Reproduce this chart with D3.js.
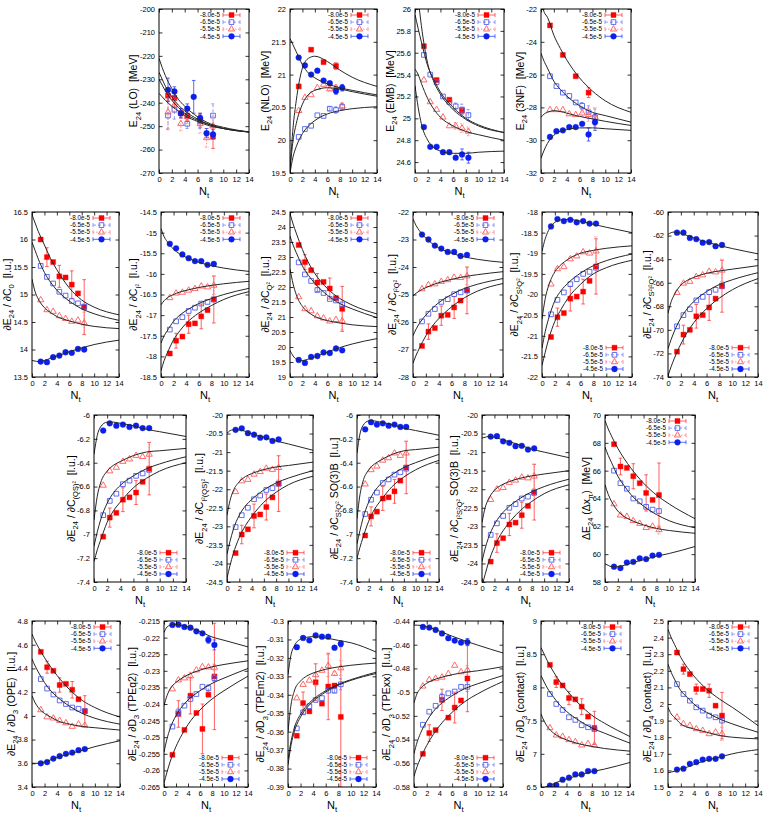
<!DOCTYPE html>
<html>
<head>
<meta charset="utf-8">
<script src="https://cdn.jsdelivr.net/npm/d3@7"></script>
<style>
  body { margin: 0; background: #fff; }
  svg text { font-family: "Liberation Sans", Arial, sans-serif; white-space: pre; }
</style>
</head>
<body>
<svg id="chart" width="764" height="816"></svg>
<script>
// N_t positions of the lattice points and of the sampled fit curves
const NT = [1.4, 2.4, 3.4, 4.4, 5.4, 6.4, 7.4, 8.4];
const NT_FIT = [0, 0.5, 1, 2, 3, 4, 6, 8, 10, 14];
const X_TICKS = [0, 2, 4, 6, 8, 10, 12, 14];
const SERIES = ['-8.0e-5', '-6.5e-5', '-5.5e-5', '-4.5e-5'];
const NO_ERR = [0, 0, 0, 0, 0, 0, 0, 0];

// ---- row 1 ----
const LO_Y = [
  [-237, -238, -244.5, -245.5, null, -247.5, null, -254.5],
  [-245.5, -243, null, -249, null, -248, null, -245.5],
  [-244, -241, -249, -246, null, -249, -255, -250],
  [-234.5, -235.2, -244.5, -242.5, -237.5, -246.5, -253, -253.5]
];
const LO_ERR = [
  [2, 3, 2, 2, 0, 3, 0, 5],
  [6, 4, 0, 2, 0, 3, 0, 5],
  [7, 3, 3, 3, 0, 4, 4, 4],
  [5, 2, 2, 2, 7, 2, 2, 2]
];
const LO_FIT = [
  [-227, -230, -233, -237.5, -241, -243.5, -247, -249.5, -251, -252.5],
  [-236, -237.5, -239, -241.5, -243.5, -245.5, -248, -250, -251, -252.5],
  [-230, -232.5, -235, -239, -242, -244.5, -247.5, -249.5, -251, -252.5],
  [-221, -225, -228.5, -234, -238.5, -241.5, -246, -249, -250.5, -252.5]
];

const NLO_Y = [
  [20.82, null, 21.38, null, 21.19, null, 21.13, null],
  [20.05, 20.17, 20.22, 20.38, 20.37, 20.48, 20.46, 20.51],
  [20.45, 20.65, 20.69, 20.8, 20.85, 20.78, 20.8, 20.52],
  [21.26, 21.14, 21.0, 21.06, 20.91, 20.87, 20.75, 20.8]
];
const NLO_ERR = [
  [0, 0, 0, 0, 0, 0, 0.05, 0],
  [0, 0, 0, 0, 0, 0.03, 0.05, 0.05],
  [0, 0, 0, 0, 0, 0.03, 0.04, 0.05],
  [0, 0, 0, 0, 0, 0, 0.05, 0.05]
];
const NLO_FIT = [
  [19.55, 20.2, 20.6, 21.1, 21.25, 21.28, 21.2, 21.07, 20.96, 20.82],
  [19.5, 19.75, 19.9, 20.1, 20.22, 20.3, 20.4, 20.45, 20.48, 20.51],
  [19.55, 20.0, 20.25, 20.55, 20.7, 20.76, 20.8, 20.78, 20.74, 20.67],
  [21.55, 21.45, 21.35, 21.15, 21.02, 20.95, 20.86, 20.8, 20.76, 20.69]
];

const EMB_Y = [
  [25.66, null, 25.35, null, 25.17, null, 25.07, null],
  [25.58, 25.4, 25.33, 25.2, 25.15, 25.11, 25.08, 25.03],
  [25.35, 25.15, 25.08, 25.01, 24.93, 24.93, 24.91, 24.88],
  [24.92, 24.74, 24.74, 24.69, 24.69, 24.64, 24.67, 24.64]
];
const EMB_ERR = [
  [0, 0, 0, 0, 0, 0, 0.03, 0],
  [0, 0, 0, 0, 0, 0.03, 0.05, 0.05],
  [0, 0, 0, 0, 0, 0.03, 0.04, 0.04],
  [0, 0, 0, 0, 0, 0, 0.05, 0.05]
];
const EMB_FIT = [
  [26.4, 26.1, 25.85, 25.5, 25.33, 25.22, 25.08, 24.99, 24.93, 24.87],
  [25.95, 25.82, 25.7, 25.48, 25.35, 25.24, 25.1, 25.0, 24.94, 24.87],
  [25.45, 25.4, 25.32, 25.18, 25.08, 25.01, 24.93, 24.88, 24.85, 24.8],
  [25.3, 25.1, 24.95, 24.8, 24.73, 24.7, 24.68, 24.68, 24.69, 24.7]
];

const TNF_Y = [
  [-23.0, null, -24.8, null, -26.1, null, -27.1, null],
  [-26.1, -26.7, -27.1, -27.3, -27.7, -27.9, -28.3, -28.6],
  [-28.15, -28.15, -28.15, -28.4, -28.45, -28.35, -28.45, -28.6],
  [-29.8, -29.45, -29.4, -29.2, -29.2, -29.0, -29.65, -28.9]
];
const TNF_ERR = [
  [0, 0, 0, 0, 0, 0, 0.3, 0],
  [0, 0, 0, 0, 0, 0.2, 0.4, 0.5],
  [0, 0, 0, 0, 0, 0.2, 0.4, 0.6],
  [0, 0, 0, 0, 0, 0, 0.4, 0.5]
];
const TNF_FIT = [
  [-21.5, -22.2, -22.5, -23.6, -24.4, -25.1, -26.2, -27.0, -27.6, -28.3],
  [-24.7, -25.2, -25.6, -26.4, -26.9, -27.3, -27.9, -28.3, -28.5, -28.9],
  [-28.6, -28.4, -28.3, -28.2, -28.25, -28.35, -28.55, -28.7, -28.85, -29.1],
  [-31.1, -30.6, -30.2, -29.7, -29.45, -29.35, -29.25, -29.25, -29.3, -29.4]
];

// ---- row 2 ----
const C0_Y = [
  [16.0, 15.68, 15.59, 15.33, 15.31, 15.18, 15.02, 14.77],
  [15.52, 15.32, 15.2, 15.05, 14.98, 14.88, 14.84, 14.78],
  [14.9, 14.72, 14.69, 14.61, 14.56, 14.51, 14.53, 14.48],
  [13.78, 13.77, 13.86, 13.89, 13.95, 13.94, 14.01, 14.0]
];
const C0_ERR = [[0, 0.17, 0, 0.2, 0, 0.25, 0, 0.5], NO_ERR, [0, 0, 0, 0, 0, 0, 0, 0.2], NO_ERR];
const C0_FIT = [
  [16.45, 16.3, 16.15, 15.9, 15.65, 15.45, 15.12, 14.9, 14.77, 14.63],
  [15.95, 15.8, 15.65, 15.4, 15.22, 15.08, 14.88, 14.74, 14.65, 14.53],
  [15.28, 15.05, 14.92, 14.76, 14.67, 14.6, 14.52, 14.46, 14.42, 14.38],
  [13.8, 13.79, 13.78, 13.8, 13.84, 13.88, 13.96, 14.03, 14.09, 14.17]
];

const CI2_Y = [
  [-17.93, -17.62, -17.52, -17.22, -17.2, -17.03, -16.88, -16.62],
  [-17.35, -17.15, -17.05, -16.9, -16.82, -16.72, -16.68, -16.62],
  [-16.58, -16.47, -16.45, -16.4, -16.36, -16.3, -16.32, -16.28],
  [-15.27, -15.38, -15.53, -15.62, -15.69, -15.69, -15.78, -15.76]
];
const CI2_ERR = [[0, 0.18, 0, 0.22, 0, 0.3, 0, 0.57], NO_ERR, [0, 0, 0, 0, 0, 0, 0, 0.22], NO_ERR];
const CI2_FIT = [
  [-18.35, -18.1, -17.92, -17.6, -17.38, -17.2, -16.95, -16.77, -16.62, -16.43],
  [-17.68, -17.5, -17.38, -17.15, -17.0, -16.89, -16.72, -16.6, -16.5, -16.35],
  [-16.75, -16.65, -16.58, -16.5, -16.44, -16.4, -16.33, -16.28, -16.24, -16.18],
  [-14.9, -15.1, -15.22, -15.4, -15.52, -15.6, -15.72, -15.8, -15.86, -15.94]
];

const CQ2_Y = [
  [23.4, 22.83, 22.56, 22.15, 22.17, 21.95, 21.63, 21.27],
  [22.82, 22.42, 22.2, 21.9, 21.8, 21.6, 21.55, 21.42],
  [21.67, 21.27, 21.2, 21.03, 20.96, 20.86, 20.91, 20.87],
  [19.57, 19.47, 19.67, 19.7, 19.82, 19.8, 19.95, 19.89]
];
const CQ2_ERR = [[0, 0.25, 0, 0.3, 0, 0.35, 0, 0.75], NO_ERR, [0, 0, 0, 0, 0, 0, 0, 0.3], NO_ERR];
const CQ2_FIT = [
  [24.45, 24.1, 23.8, 23.25, 22.8, 22.45, 21.95, 21.62, 21.4, 21.1],
  [23.7, 23.4, 23.15, 22.7, 22.38, 22.12, 21.73, 21.45, 21.27, 20.98],
  [22.6, 22.1, 21.75, 21.35, 21.15, 21.02, 20.88, 20.8, 20.74, 20.68],
  [19.88, 19.7, 19.6, 19.55, 19.6, 19.67, 19.83, 19.98, 20.1, 20.28]
];

const CI2Q2_Y = [
  [-26.87, -26.35, -26.22, -25.77, -25.74, -25.47, -25.22, -24.85],
  [-25.98, -25.7, -25.53, -25.27, -25.17, -24.99, -24.92, -24.85],
  [-24.8, -24.65, -24.62, -24.53, -24.47, -24.38, -24.39, -24.33],
  [-22.82, -23.0, -23.22, -23.33, -23.45, -23.45, -23.6, -23.56]
];
const CI2Q2_ERR = [[0, 0.28, 0, 0.35, 0, 0.4, 0, 0.85], NO_ERR, [0, 0, 0, 0, 0, 0, 0, 0.32], NO_ERR];
const CI2Q2_FIT = [
  [-27.5, -27.2, -26.95, -26.5, -26.15, -25.88, -25.45, -25.12, -24.88, -24.6],
  [-26.5, -26.25, -26.05, -25.75, -25.5, -25.3, -25.0, -24.78, -24.63, -24.42],
  [-25.05, -24.95, -24.87, -24.75, -24.65, -24.57, -24.45, -24.35, -24.28, -24.17],
  [-22.25, -22.5, -22.68, -22.95, -23.15, -23.3, -23.5, -23.63, -23.72, -23.83]
];

const CS2Q2_Y = [
  [-21.03, -20.55, -20.45, -20.1, -20.05, -19.93, -19.67, -19.32],
  [-20.48, -20.13, -19.95, -19.75, -19.63, -19.5, -19.45, -19.35],
  [-19.75, -19.38, -19.33, -19.14, -19.07, -18.97, -19.0, -18.95],
  [-18.35, -18.17, -18.22, -18.19, -18.25, -18.22, -18.28, -18.28]
];
const CS2Q2_ERR = [[0, 0.22, 0, 0.3, 0, 0.3, 0, 0.67], NO_ERR, [0, 0, 0, 0, 0, 0, 0, 0.35], NO_ERR];
const CS2Q2_FIT = [
  [-21.72, -21.4, -21.1, -20.65, -20.35, -20.1, -19.75, -19.5, -19.35, -19.17],
  [-21.3, -20.9, -20.6, -20.15, -19.9, -19.73, -19.48, -19.3, -19.18, -19.02],
  [-20.6, -20.1, -19.8, -19.45, -19.27, -19.15, -19.0, -18.93, -18.88, -18.82],
  [-18.95, -18.65, -18.45, -18.25, -18.19, -18.18, -18.22, -18.3, -18.37, -18.5]
];

const CS2I2Q2_Y = [
  [-71.85, -70.4, -70.0, -68.85, -68.75, -68.1, -67.35, -66.3],
  [-69.7, -68.75, -68.25, -67.5, -67.2, -66.8, -66.6, -66.25],
  [-66.85, -66.05, -65.9, -65.5, -65.35, -65.05, -65.1, -64.95],
  [-61.75, -61.75, -62.2, -62.3, -62.6, -62.55, -62.9, -62.8]
];
const CS2I2Q2_ERR = [[0, 0.8, 0, 1.0, 0, 1.1, 0, 2.2], NO_ERR, [0, 0, 0, 0, 0, 0, 0, 0.95], NO_ERR];
const CS2I2Q2_FIT = [
  [-73.9, -73.1, -72.4, -71.2, -70.2, -69.4, -68.2, -67.3, -66.6, -65.65],
  [-71.6, -70.8, -70.1, -69.0, -68.2, -67.6, -66.75, -66.15, -65.75, -65.15],
  [-68.6, -67.6, -67.0, -66.2, -65.8, -65.55, -65.2, -65.0, -64.85, -64.55],
  [-61.9, -61.75, -61.7, -61.8, -62.0, -62.2, -62.55, -62.85, -63.1, -63.55]
];

// ---- row 3 ----
const CQS2_Y = [
  [-7.02, -6.86, -6.82, -6.71, -6.69, -6.65, -6.56, -6.45],
  [-6.84, -6.72, -6.66, -6.58, -6.55, -6.51, -6.49, -6.46],
  [-6.59, -6.47, -6.44, -6.39, -6.37, -6.34, -6.35, -6.33],
  [-6.13, -6.07, -6.09, -6.08, -6.1, -6.09, -6.11, -6.11]
];
const CQS2_ERR = [[0, 0.08, 0, 0.1, 0, 0.1, 0, 0.22], NO_ERR, [0, 0, 0, 0, 0, 0, 0, 0.1], NO_ERR];
const CQS2_FIT = [
  [-7.23, -7.13, -7.05, -6.9, -6.8, -6.73, -6.61, -6.53, -6.47, -6.4],
  [-7.1, -6.98, -6.88, -6.74, -6.65, -6.59, -6.51, -6.45, -6.41, -6.35],
  [-6.88, -6.68, -6.57, -6.47, -6.42, -6.39, -6.34, -6.31, -6.3, -6.28],
  [-6.33, -6.17, -6.1, -6.06, -6.06, -6.07, -6.09, -6.12, -6.14, -6.18]
];

const CI2QS2_Y = [
  [-23.72, -23.22, -23.08, -22.72, -22.68, -22.48, -22.22, -21.85],
  [-23.02, -22.7, -22.5, -22.27, -22.17, -22.02, -21.97, -21.85],
  [-22.07, -21.78, -21.74, -21.6, -21.53, -21.44, -21.47, -21.42],
  [-20.4, -20.36, -20.49, -20.53, -20.61, -20.6, -20.7, -20.66]
];
const CI2QS2_ERR = [[0, 0.25, 0, 0.32, 0, 0.35, 0, 0.75], NO_ERR, [0, 0, 0, 0, 0, 0, 0, 0.33], NO_ERR];
const CI2QS2_FIT = [
  [-24.4, -24.05, -23.75, -23.3, -22.98, -22.74, -22.35, -22.08, -21.88, -21.65],
  [-23.75, -23.4, -23.1, -22.7, -22.45, -22.28, -22.02, -21.83, -21.7, -21.5],
  [-22.7, -22.3, -22.05, -21.8, -21.66, -21.58, -21.47, -21.4, -21.36, -21.27],
  [-20.5, -20.42, -20.4, -20.4, -20.44, -20.5, -20.6, -20.7, -20.78, -20.95]
];

const CS2Q2B_Y = [
  [-7.01, -6.85, -6.81, -6.7, -6.69, -6.64, -6.55, -6.44],
  [-6.83, -6.71, -6.65, -6.57, -6.54, -6.5, -6.48, -6.45],
  [-6.58, -6.46, -6.43, -6.38, -6.36, -6.32, -6.34, -6.32],
  [-6.12, -6.06, -6.08, -6.07, -6.09, -6.08, -6.1, -6.1]
];
const CS2Q2B_ERR = [[0, 0.08, 0, 0.1, 0, 0.1, 0, 0.22], NO_ERR, [0, 0, 0, 0, 0, 0, 0, 0.1], NO_ERR];
const CS2Q2B_FIT = [
  [-7.2, -7.11, -7.03, -6.89, -6.79, -6.72, -6.6, -6.52, -6.46, -6.38],
  [-7.08, -6.97, -6.87, -6.73, -6.64, -6.58, -6.5, -6.44, -6.4, -6.33],
  [-6.87, -6.67, -6.56, -6.46, -6.41, -6.38, -6.33, -6.3, -6.29, -6.27],
  [-6.32, -6.16, -6.09, -6.05, -6.05, -6.06, -6.08, -6.11, -6.13, -6.17]
];

const CI2S2Q2B_Y = [
  [-23.95, -23.45, -23.32, -22.95, -22.9, -22.7, -22.45, -22.08],
  [-23.23, -22.92, -22.72, -22.5, -22.4, -22.25, -22.2, -22.1],
  [-22.28, -22.0, -21.96, -21.82, -21.76, -21.68, -21.7, -21.65],
  [-20.58, -20.57, -20.71, -20.75, -20.84, -20.83, -20.93, -20.9]
];
const CI2S2Q2B_ERR = [[0, 0.25, 0, 0.3, 0, 0.35, 0, 0.75], NO_ERR, [0, 0, 0, 0, 0, 0, 0, 0.33], NO_ERR];
const CI2S2Q2B_FIT = [
  [-24.6, -24.3, -24.0, -23.55, -23.22, -22.98, -22.6, -22.33, -22.12, -21.88],
  [-23.95, -23.6, -23.33, -22.95, -22.7, -22.52, -22.26, -22.07, -21.93, -21.73],
  [-22.9, -22.5, -22.28, -22.03, -21.9, -21.82, -21.71, -21.64, -21.59, -21.5],
  [-20.62, -20.6, -20.58, -20.6, -20.65, -20.7, -20.8, -20.92, -21.0, -21.15]
];

const XPI_Y = [
  [67.9, 66.3, 66.2, 65.6, 65.1, 64.4, 63.9, 64.25],
  [66.0, 65.1, 64.7, 64.0, 63.8, 63.4, 63.2, 63.1],
  [63.6, 62.8, 62.7, 62.4, 62.2, 61.9, 62.0, 61.75],
  [59.1, 59.0, 59.4, 59.45, 59.7, 59.65, 59.9, 59.95]
];
const XPI_ERR = [[0, 0.6, 0, 0.9, 0, 1.3, 0, 2.3], NO_ERR, [0, 0, 0, 0, 0, 0, 0, 0.3], NO_ERR];
const XPI_FIT = [
  [69.6, 69.0, 68.5, 67.6, 66.85, 66.2, 65.1, 64.25, 63.6, 62.55],
  [67.7, 67.1, 66.6, 65.6, 64.9, 64.3, 63.45, 62.85, 62.4, 61.9],
  [65.0, 64.3, 63.8, 63.1, 62.7, 62.45, 62.1, 61.85, 61.7, 61.5],
  [59.3, 59.2, 59.1, 59.1, 59.2, 59.35, 59.6, 59.85, 60.05, 60.55]
];

// ---- row 4 ----
const OPE_Y = [
  [4.54, 4.41, 4.38, 4.26, 4.27, 4.22, 4.14, 4.04],
  [4.31, 4.23, 4.18, 4.13, 4.1, 4.07, 4.06, 4.04],
  [4.05, 3.99, 3.98, 3.96, 3.94, 3.91, 3.93, 3.92],
  [3.6, 3.61, 3.64, 3.66, 3.68, 3.69, 3.71, 3.72]
];
const OPE_ERR = [[0, 0.05, 0, 0.06, 0, 0.07, 0, 0.13], NO_ERR, NO_ERR, NO_ERR];
const OPE_FIT = [
  [4.69, 4.63, 4.58, 4.49, 4.41, 4.34, 4.22, 4.13, 4.07, 3.99],
  [4.48, 4.42, 4.37, 4.28, 4.21, 4.16, 4.08, 4.02, 3.98, 3.93],
  [4.17, 4.11, 4.07, 4.02, 3.99, 3.96, 3.93, 3.91, 3.9, 3.88],
  [3.6, 3.6, 3.6, 3.61, 3.63, 3.65, 3.68, 3.71, 3.74, 3.79]
];

const TPEQ2_Y = [
  [-0.2553, -0.243, -0.2478, -0.2375, -0.2427, -0.2475, -0.2372, -0.2317],
  [-0.2468, -0.2425, -0.2405, -0.2385, -0.237, -0.2348, -0.2352, -0.2322],
  [-0.2355, -0.2328, -0.2322, -0.2316, -0.2298, -0.2288, -0.2289, -0.229],
  [-0.2162, -0.2161, -0.2168, -0.217, -0.2181, -0.2187, -0.2207, -0.2222]
];
const TPEQ2_ERR = [
  [0, 0.004, 0, 0.0055, 0, 0.0075, 0, 0.016],
  [0, 0.0012, 0, 0, 0, 0, 0.001, 0.001],
  [0, 0, 0, 0.0012, 0, 0, 0, 0.001],
  [0, 0, 0, 0, 0, 0, 0.001, 0.0015]
];
const TPEQ2_FIT = [
  [-0.2638, -0.2605, -0.2575, -0.2528, -0.2492, -0.2462, -0.2418, -0.2385, -0.236, -0.2316],
  [-0.2545, -0.2505, -0.2475, -0.2435, -0.2408, -0.2388, -0.236, -0.2338, -0.2322, -0.2293],
  [-0.2405, -0.2375, -0.2355, -0.2335, -0.2322, -0.2312, -0.2298, -0.2288, -0.2281, -0.227],
  [-0.2185, -0.2168, -0.2163, -0.216, -0.2163, -0.2168, -0.2182, -0.2198, -0.2208, -0.2228]
];

const TPEM2_Y = [
  [-0.3622, -0.3445, -0.349, -0.3332, -0.3448, -0.3355, -0.335, -0.352],
  [-0.3582, -0.3495, -0.3462, -0.3428, -0.3418, -0.3378, -0.3378, -0.3343],
  [-0.3418, -0.3345, -0.3322, -0.3292, -0.3268, -0.3242, -0.3285, -0.3255],
  [-0.3142, -0.3092, -0.3105, -0.3078, -0.3085, -0.3085, -0.3145, -0.3123]
];
const TPEM2_ERR = [
  [0, 0.006, 0, 0.01, 0, 0.018, 0, 0.038],
  [0, 0, 0, 0, 0, 0, 0.001, 0.003],
  [0, 0, 0, 0.006, 0, 0.006, 0.001, 0.004],
  [0, 0, 0, 0, 0, 0, 0.001, 0.0015]
];
const TPEM2_FIT = [
  [-0.378, -0.367, -0.36, -0.352, -0.347, -0.3435, -0.3385, -0.3348, -0.3322, -0.3285],
  [-0.375, -0.365, -0.358, -0.3505, -0.3458, -0.3425, -0.3378, -0.3343, -0.3318, -0.3278],
  [-0.36, -0.345, -0.338, -0.3325, -0.3298, -0.3282, -0.3262, -0.3249, -0.324, -0.3228],
  [-0.329, -0.318, -0.3135, -0.3098, -0.3088, -0.3085, -0.3092, -0.3105, -0.3118, -0.3168]
];

const TPEXX_Y = [
  [-0.552, -0.5345, -0.532, -0.5065, -0.5215, -0.513, -0.507, -0.4885],
  [-0.5275, -0.5165, -0.5115, -0.504, -0.501, -0.4995, -0.4955, -0.4955],
  [-0.495, -0.4895, -0.4885, -0.4875, -0.4845, -0.4775, -0.483, -0.4815],
  [-0.445, -0.4455, -0.4475, -0.4505, -0.4545, -0.4565, -0.4582, -0.4578]
];
const TPEXX_ERR = [
  [0, 0.007, 0, 0.009, 0, 0.013, 0, 0.028],
  [0, 0, 0, 0.003, 0, 0, 0, 0.004],
  [0, 0, 0, 0, 0, 0, 0, 0.004],
  [0, 0, 0, 0, 0, 0, 0, 0.003]
];
const TPEXX_FIT = [
  [-0.571, -0.5625, -0.556, -0.545, -0.536, -0.5285, -0.517, -0.508, -0.5015, -0.491],
  [-0.552, -0.542, -0.535, -0.5245, -0.5165, -0.511, -0.503, -0.497, -0.493, -0.486],
  [-0.509, -0.501, -0.497, -0.4925, -0.4898, -0.488, -0.4853, -0.4833, -0.482, -0.4785],
  [-0.4435, -0.4435, -0.4437, -0.4448, -0.4465, -0.4485, -0.4528, -0.4567, -0.4603, -0.467]
];

const D3C_Y = [
  [8.34, 8.08, 8.03, 7.84, 7.82, 7.71, 7.56, 7.39],
  [7.9, 7.75, 7.66, 7.55, 7.51, 7.43, 7.4, 7.37],
  [7.39, 7.28, 7.26, 7.21, 7.18, 7.13, 7.15, 7.13],
  [6.52, 6.53, 6.61, 6.64, 6.69, 6.69, 6.74, 6.74]
];
const D3C_ERR = [[0, 0.08, 0, 0.1, 0, 0.12, 0, 0.25], NO_ERR, NO_ERR, NO_ERR];
const D3C_FIT = [
  [8.6, 8.5, 8.4, 8.23, 8.08, 7.96, 7.75, 7.58, 7.46, 7.26],
  [8.18, 8.08, 7.99, 7.85, 7.73, 7.64, 7.5, 7.39, 7.31, 7.16],
  [7.6, 7.49, 7.41, 7.31, 7.25, 7.21, 7.15, 7.11, 7.08, 7.04],
  [6.48, 6.49, 6.51, 6.55, 6.59, 6.62, 6.68, 6.73, 6.77, 6.87]
];

const D4C_Y = [
  [2.31, 2.21, 2.18, 2.09, 2.09, 2.08, 1.99, 1.93],
  [2.12, 2.06, 2.02, 1.98, 1.96, 1.93, 1.92, 1.9],
  [1.92, 1.88, 1.87, 1.85, 1.84, 1.82, 1.83, 1.82],
  [1.605, 1.61, 1.64, 1.65, 1.665, 1.67, 1.67, 1.685]
];
const D4C_ERR = [[0, 0.03, 0, 0.03, 0, 0.04, 0, 0.14], NO_ERR, [0, 0, 0, 0, 0, 0, 0, 0.04], NO_ERR];
const D4C_FIT = [
  [2.45, 2.4, 2.36, 2.28, 2.22, 2.17, 2.09, 2.03, 1.98, 1.87],
  [2.24, 2.19, 2.15, 2.08, 2.04, 2.0, 1.95, 1.91, 1.88, 1.83],
  [1.98, 1.94, 1.92, 1.88, 1.86, 1.85, 1.83, 1.81, 1.8, 1.79],
  [1.585, 1.59, 1.595, 1.61, 1.62, 1.635, 1.66, 1.68, 1.7, 1.725]
];

// rows: plot area top / bottom in px
const ROWS = [[9, 173], [212, 377], [415, 582], [621, 787]];

// panel layout: data, axis range, label and legend corner
const PANELS = [
  { row: 0, x0: 159, x1: 249, y: LO_Y, err: LO_ERR, fit: LO_FIT, dom: [-270, -200], step: 10, label: 'E_{24} (LO)  [MeV]', key: 'top' },
  { row: 0, x0: 290, x1: 377, y: NLO_Y, err: NLO_ERR, fit: NLO_FIT, dom: [19.5, 22], step: 0.5, label: 'E_{24} (NLO)  [MeV]', key: 'top' },
  { row: 0, x0: 415, x1: 504, y: EMB_Y, err: EMB_ERR, fit: EMB_FIT, dom: [24.5, 26], step: 0.2, label: 'E_{24} (EMB)  [MeV]', key: 'top' },
  { row: 0, x0: 541, x1: 631, y: TNF_Y, err: TNF_ERR, fit: TNF_FIT, dom: [-32, -22], step: 2, label: 'E_{24} (3NF)  [MeV]', key: 'top' },

  { row: 1, x0: 32, x1: 119, y: C0_Y, err: C0_ERR, fit: C0_FIT, dom: [13.5, 16.5], step: 0.5, label: '∂E_{24} / ∂C_{0}  [l.u.]', key: 'top' },
  { row: 1, x0: 161, x1: 249, y: CI2_Y, err: CI2_ERR, fit: CI2_FIT, dom: [-18.5, -14.5], step: 0.5, label: '∂E_{24} / ∂C_{I²}  [l.u.]', key: 'top' },
  { row: 1, x0: 290, x1: 377, y: CQ2_Y, err: CQ2_ERR, fit: CQ2_FIT, dom: [19, 24.5], step: 0.5, label: '∂E_{24} / ∂C_{Q²}  [l.u.]', key: 'top' },
  { row: 1, x0: 413, x1: 503, y: CI2Q2_Y, err: CI2Q2_ERR, fit: CI2Q2_FIT, dom: [-28, -22], step: 1, label: '∂E_{24} / ∂C_{I²Q²}  [l.u.]', key: 'top' },
  { row: 1, x0: 542, x1: 632, y: CS2Q2_Y, err: CS2Q2_ERR, fit: CS2Q2_FIT, dom: [-22, -18], step: 0.5, label: '∂E_{24} / ∂C_{S²Q²}  [l.u.]', key: 'bottom' },
  { row: 1, x0: 668, x1: 758, y: CS2I2Q2_Y, err: CS2I2Q2_ERR, fit: CS2I2Q2_FIT, dom: [-74, -60], step: 2, label: '∂E_{24} / ∂C_{S²I²Q²}  [l.u.]', key: 'bottom' },

  { row: 2, x0: 94, x1: 186, y: CQS2_Y, err: CQS2_ERR, fit: CQS2_FIT, dom: [-7.4, -6], step: 0.2, label: '∂E_{24} / ∂C_{(QS)²}  [l.u.]', key: 'bottom' },
  { row: 2, x0: 227, x1: 313, y: CI2QS2_Y, err: CI2QS2_ERR, fit: CI2QS2_FIT, dom: [-24.5, -20], step: 0.5, label: '∂E_{24} / ∂C_{I²(QS)²}  [l.u.]', key: 'bottom' },
  { row: 2, x0: 357, x1: 439, y: CS2Q2B_Y, err: CS2Q2B_ERR, fit: CS2Q2B_FIT, dom: [-7.4, -6], step: 0.2, label: '∂E_{24} / ∂C_{S²Q²} SO(3)B  [l.u.]', key: 'bottom' },
  { row: 2, x0: 482, x1: 569, y: CI2S2Q2B_Y, err: CI2S2Q2B_ERR, fit: CI2S2Q2B_FIT, dom: [-24.5, -20], step: 0.5, label: '∂E_{24} / ∂C_{I²S²Q²} SO(3)B  [l.u.]', key: 'bottom' },
  { row: 2, x0: 605, x1: 695, y: XPI_Y, err: XPI_ERR, fit: XPI_FIT, dom: [58, 70], step: 2, label: 'ΔE_{24} (Δx_{π})  [MeV]', key: 'top' },

  { row: 3, x0: 32, x1: 120, y: OPE_Y, err: OPE_ERR, fit: OPE_FIT, dom: [3.4, 4.8], step: 0.2, label: '∂E_{24} / ∂D_{3} (OPE)  [l.u.]', key: 'top' },
  { row: 3, x0: 164, x1: 248, y: TPEQ2_Y, err: TPEQ2_ERR, fit: TPEQ2_FIT, dom: [-0.265, -0.215], step: 0.005, label: '∂E_{24} / ∂D_{3} (TPEq2)  [l.u.]', key: 'bottom' },
  { row: 3, x0: 288, x1: 376, y: TPEM2_Y, err: TPEM2_ERR, fit: TPEM2_FIT, dom: [-0.39, -0.3], step: 0.01, label: '∂E_{24} / ∂D_{3} (TPEm2)  [l.u.]', key: 'bottom' },
  { row: 3, x0: 414, x1: 503, y: TPEXX_Y, err: TPEXX_ERR, fit: TPEXX_FIT, dom: [-0.58, -0.44], step: 0.02, label: '∂E_{24} / ∂D_{3} (TPExx)  [l.u.]', key: 'bottom' },
  { row: 3, x0: 541, x1: 630, y: D3C_Y, err: D3C_ERR, fit: D3C_FIT, dom: [6.5, 9], step: 0.5, label: '∂E_{24} / ∂D_{3} (contact)  [l.u.]', key: 'top' },
  { row: 3, x0: 668, x1: 758, y: D4C_Y, err: D4C_ERR, fit: D4C_FIT, dom: [1.5, 2.5], step: 0.1, label: '∂E_{24} / ∂D_{4} (contact)  [l.u.]', key: 'top' }
];

// series styles (gnuplot-like)
const MARK_COLOR = ['#ff0000', '#4f5fec', '#ff5a5a', '#0b1fee'];
const BAR_COLOR = ['#ff3a3a', '#7383f5', '#ff7a7a', '#3344f2'];
const BAR_DASH = [null, '3,2', '1.5,1.5', null];
const SYMBOLS = [
  d3.symbol(d3.symbolSquare, 25),
  d3.symbol(d3.symbolSquare, 22),
  d3.symbol(d3.symbolTriangle, 17),
  d3.symbol(d3.symbolCircle, 26)
];
const FILLED = [true, false, false, true];

const svg = d3.select('#chart');

function tickValues(dom, step) {
  const n0 = Math.ceil(dom[0] / step - 1e-6);
  const n1 = Math.floor(dom[1] / step + 1e-6);
  return d3.range(n0, n1 + 1).map(k => +(k * step).toFixed(6));
}

// text with _{sub} and ^{sup} parts
function richText(sel, str, size) {
  let shift = 0;
  str.match(/[_^]\{[^}]*\}|[^_^]+/g).forEach(p => {
    let s = 0, fs = size, t = p;
    if (p[0] === '_') { s = size * 0.3; fs = size * 0.72; t = p.slice(2, -1); }
    else if (p[0] === '^') { s = -size * 0.38; fs = size * 0.72; t = p.slice(2, -1); }
    sel.append('tspan').attr('dy', s - shift).attr('font-size', fs).text(t);
    shift = s;
  });
}

function drawMarker(g, i, cx, cy) {
  g.append('path')
    .attr('d', SYMBOLS[i]())
    .attr('transform', `translate(${cx},${cy})`)
    .attr('fill', FILLED[i] ? MARK_COLOR[i] : 'none')
    .attr('stroke', MARK_COLOR[i])
    .attr('stroke-width', FILLED[i] ? 0.4 : 0.9);
}

PANELS.forEach((p, pi) => {
  const [top, bottom] = ROWS[p.row];
  const x = d3.scaleLinear().domain([0, 14]).range([p.x0, p.x1]);
  const y = d3.scaleLinear().domain(p.dom).range([bottom, top]);
  const g = svg.append('g');

  // Clip
  const clipId = 'clip' + pi;
  g.append('clipPath').attr('id', clipId).append('rect')
    .attr('x', p.x0).attr('y', top)
    .attr('width', p.x1 - p.x0).attr('height', bottom - top);

  const plot = g.append('g').attr('clip-path', `url(#${clipId})`);

  // Error bars and markers
  p.y.forEach((vals, si) => {
    vals.forEach((v, k) => {
      if (v === null) return;
      const e = p.err[si][k];
      const cx = x(NT[k]);
      if (e > 0) {
        const ya = y(v - e), yb = y(v + e);
        const bar = plot.append('g')
          .attr('stroke', BAR_COLOR[si])
          .attr('stroke-width', 0.8)
          .attr('stroke-dasharray', BAR_DASH[si]);
        bar.append('line').attr('x1', cx).attr('x2', cx).attr('y1', ya).attr('y2', yb);
        bar.append('line').attr('x1', cx - 1.8).attr('x2', cx + 1.8).attr('y1', ya).attr('y2', ya).attr('stroke-dasharray', null);
        bar.append('line').attr('x1', cx - 1.8).attr('x2', cx + 1.8).attr('y1', yb).attr('y2', yb).attr('stroke-dasharray', null);
      }
      drawMarker(plot, si, cx, y(v));
    });
  });

  // Fit curves
  const line = d3.line()
    .x((d, k) => x(NT_FIT[k]))
    .y(d => y(d))
    .curve(d3.curveMonotoneX);
  p.fit.forEach(f => {
    plot.append('path')
      .attr('d', line(f))
      .attr('fill', 'none')
      .attr('stroke', '#262626')
      .attr('stroke-width', 1);
  });

  // Axes (ticks inside, mirrored)
  const yt = tickValues(p.dom, p.step);
  const left = g.append('g')
    .attr('transform', `translate(${p.x0},0)`)
    .call(d3.axisLeft(y).tickValues(yt).tickSizeInner(-3.5).tickSizeOuter(0).tickPadding(4).tickFormat(d => String(d)));
  const right = g.append('g')
    .attr('transform', `translate(${p.x1},0)`)
    .call(d3.axisRight(y).tickValues(yt).tickSizeInner(-3.5).tickSizeOuter(0).tickFormat(''));
  const bot = g.append('g')
    .attr('transform', `translate(0,${bottom})`)
    .call(d3.axisBottom(x).tickValues(X_TICKS).tickSizeInner(-3.5).tickSizeOuter(0).tickPadding(4).tickFormat(d => String(d)));
  const topAx = g.append('g')
    .attr('transform', `translate(0,${top})`)
    .call(d3.axisTop(x).tickValues(X_TICKS).tickSizeInner(-3.5).tickSizeOuter(0).tickFormat(''));
  [left, right, bot, topAx].forEach(a => {
    a.attr('font-size', 7.5).attr('font-family', null);
    a.select('.domain').remove();
    a.selectAll('line').attr('stroke', '#000').attr('stroke-width', 0.8);
    a.selectAll('text').attr('fill', '#000');
  });

  // Frame
  g.append('rect')
    .attr('x', p.x0).attr('y', top)
    .attr('width', p.x1 - p.x0).attr('height', bottom - top)
    .attr('fill', 'none').attr('stroke', '#000').attr('stroke-width', 1);

  // Axis labels
  const xl = g.append('text')
    .attr('x', (p.x0 + p.x1) / 2).attr('y', bottom + 22)
    .attr('text-anchor', 'middle').attr('font-size', 11);
  richText(xl, 'N_{t}', 11);

  const bb = left.node().getBBox();
  const lx = p.x0 + bb.x - 2.5;
  const yl = g.append('text')
    .attr('transform', `translate(${lx},${(top + bottom) / 2}) rotate(-90)`)
    .attr('text-anchor', 'middle').attr('font-size', 10.5);
  richText(yl, p.label, 10.5);

  // Legend
  const step = 7.1;
  const y0 = p.key === 'top' ? top + 6 : bottom - 8 - 3 * step;
  SERIES.forEach((name, si) => {
    const ly = y0 + si * step;
    g.append('text')
      .attr('x', p.x1 - 29).attr('y', ly).attr('dy', '0.35em')
      .attr('text-anchor', 'end').attr('font-size', 6.3).text(name);
    const a = p.x1 - 26, b = p.x1 - 9;
    const s = g.append('g').attr('stroke', BAR_COLOR[si]).attr('stroke-width', 0.8);
    s.append('line').attr('x1', a).attr('x2', b).attr('y1', ly).attr('y2', ly).attr('stroke-dasharray', BAR_DASH[si]);
    s.append('line').attr('x1', a).attr('x2', a).attr('y1', ly - 2).attr('y2', ly + 2);
    s.append('line').attr('x1', b).attr('x2', b).attr('y1', ly - 2).attr('y2', ly + 2);
    drawMarker(g, si, (a + b) / 2, ly);
  });
});
</script>
</body>
</html>
